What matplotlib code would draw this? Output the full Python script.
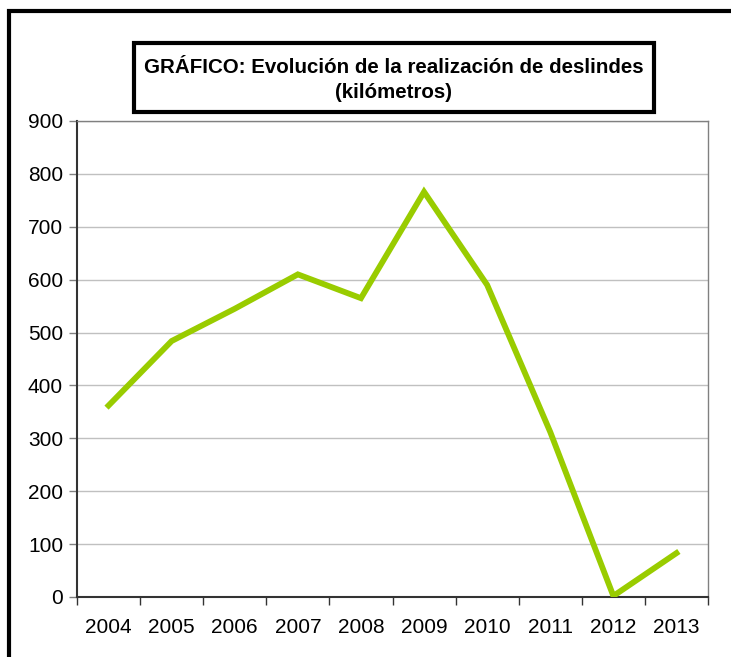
import matplotlib

matplotlib.use("Agg")
import matplotlib.pyplot as plt
from matplotlib.patches import Rectangle

years = ["2004", "2005", "2006", "2007", "2008", "2009", "2010", "2011", "2012", "2013"]
km = [362, 484, 545, 610, 565, 766, 590, 312, 2, 83]
y_ticks = [0, 100, 200, 300, 400, 500, 600, 700, 800, 900]

plt.rcParams["font.family"] = ["Liberation Sans", "DejaVu Sans"]

W, H = 731, 657
fig = plt.figure(figsize=(W / 100, H / 100), dpi=100)

# plot area in pixels: left 77, right 708, top 121, bottom 597
ax = fig.add_axes([77 / W, 1 - 597 / H, (708 - 77) / W, (597 - 121) / H])

xs = [i + 0.5 for i in range(len(years))]
ax.plot(xs, km, color="#99CC00", lw=4.2, solid_joinstyle="miter", zorder=3)

ax.set_xlim(0, len(years))
ax.set_ylim(0, 900)
ax.set_yticks(y_ticks)
ax.set_yticklabels([str(v) for v in y_ticks], fontsize=15)
ax.yaxis.grid(True, color="#c0c0c0", lw=1)
ax.set_axisbelow(True)

ax.set_xticks(xs)
ax.set_xticklabels(years, fontsize=15)
ax.set_xticks(range(len(years) + 1), minor=True)
ax.tick_params(axis="x", which="major", length=0, pad=15)
ax.tick_params(axis="x", which="minor", length=6, width=1, color="#333333", direction="out")
ax.tick_params(axis="y", length=6, width=1, color="#808080", direction="out", pad=4)

for s in ("left", "bottom"):
    ax.spines[s].set_color("#333333")
    ax.spines[s].set_linewidth(1.5)
for s in ("top", "right"):
    ax.spines[s].set_color("#808080")
    ax.spines[s].set_linewidth(1)

# outer frame (right and bottom fall outside the image)
fig.patches.append(Rectangle((9 / W, -0.05), 1.1, 1 - 11 / H + 0.05, transform=fig.transFigure,
                             fill=False, ec="black", lw=3, zorder=10))

# title box
fig.patches.append(Rectangle((134 / W, 1 - 112 / H), (654 - 134) / W, (112 - 43) / H,
                             transform=fig.transFigure, fc="white", ec="black", lw=3, zorder=10))
fig.text(394 / W, 1 - 80 / H, "GRÁFICO: Evolución de la realización de deslindes\n(kilómetros)",
         ha="center", va="center", fontsize=14.8, fontweight="bold", linespacing=1.45, zorder=11)

fig.savefig("out.png", dpi=100)
